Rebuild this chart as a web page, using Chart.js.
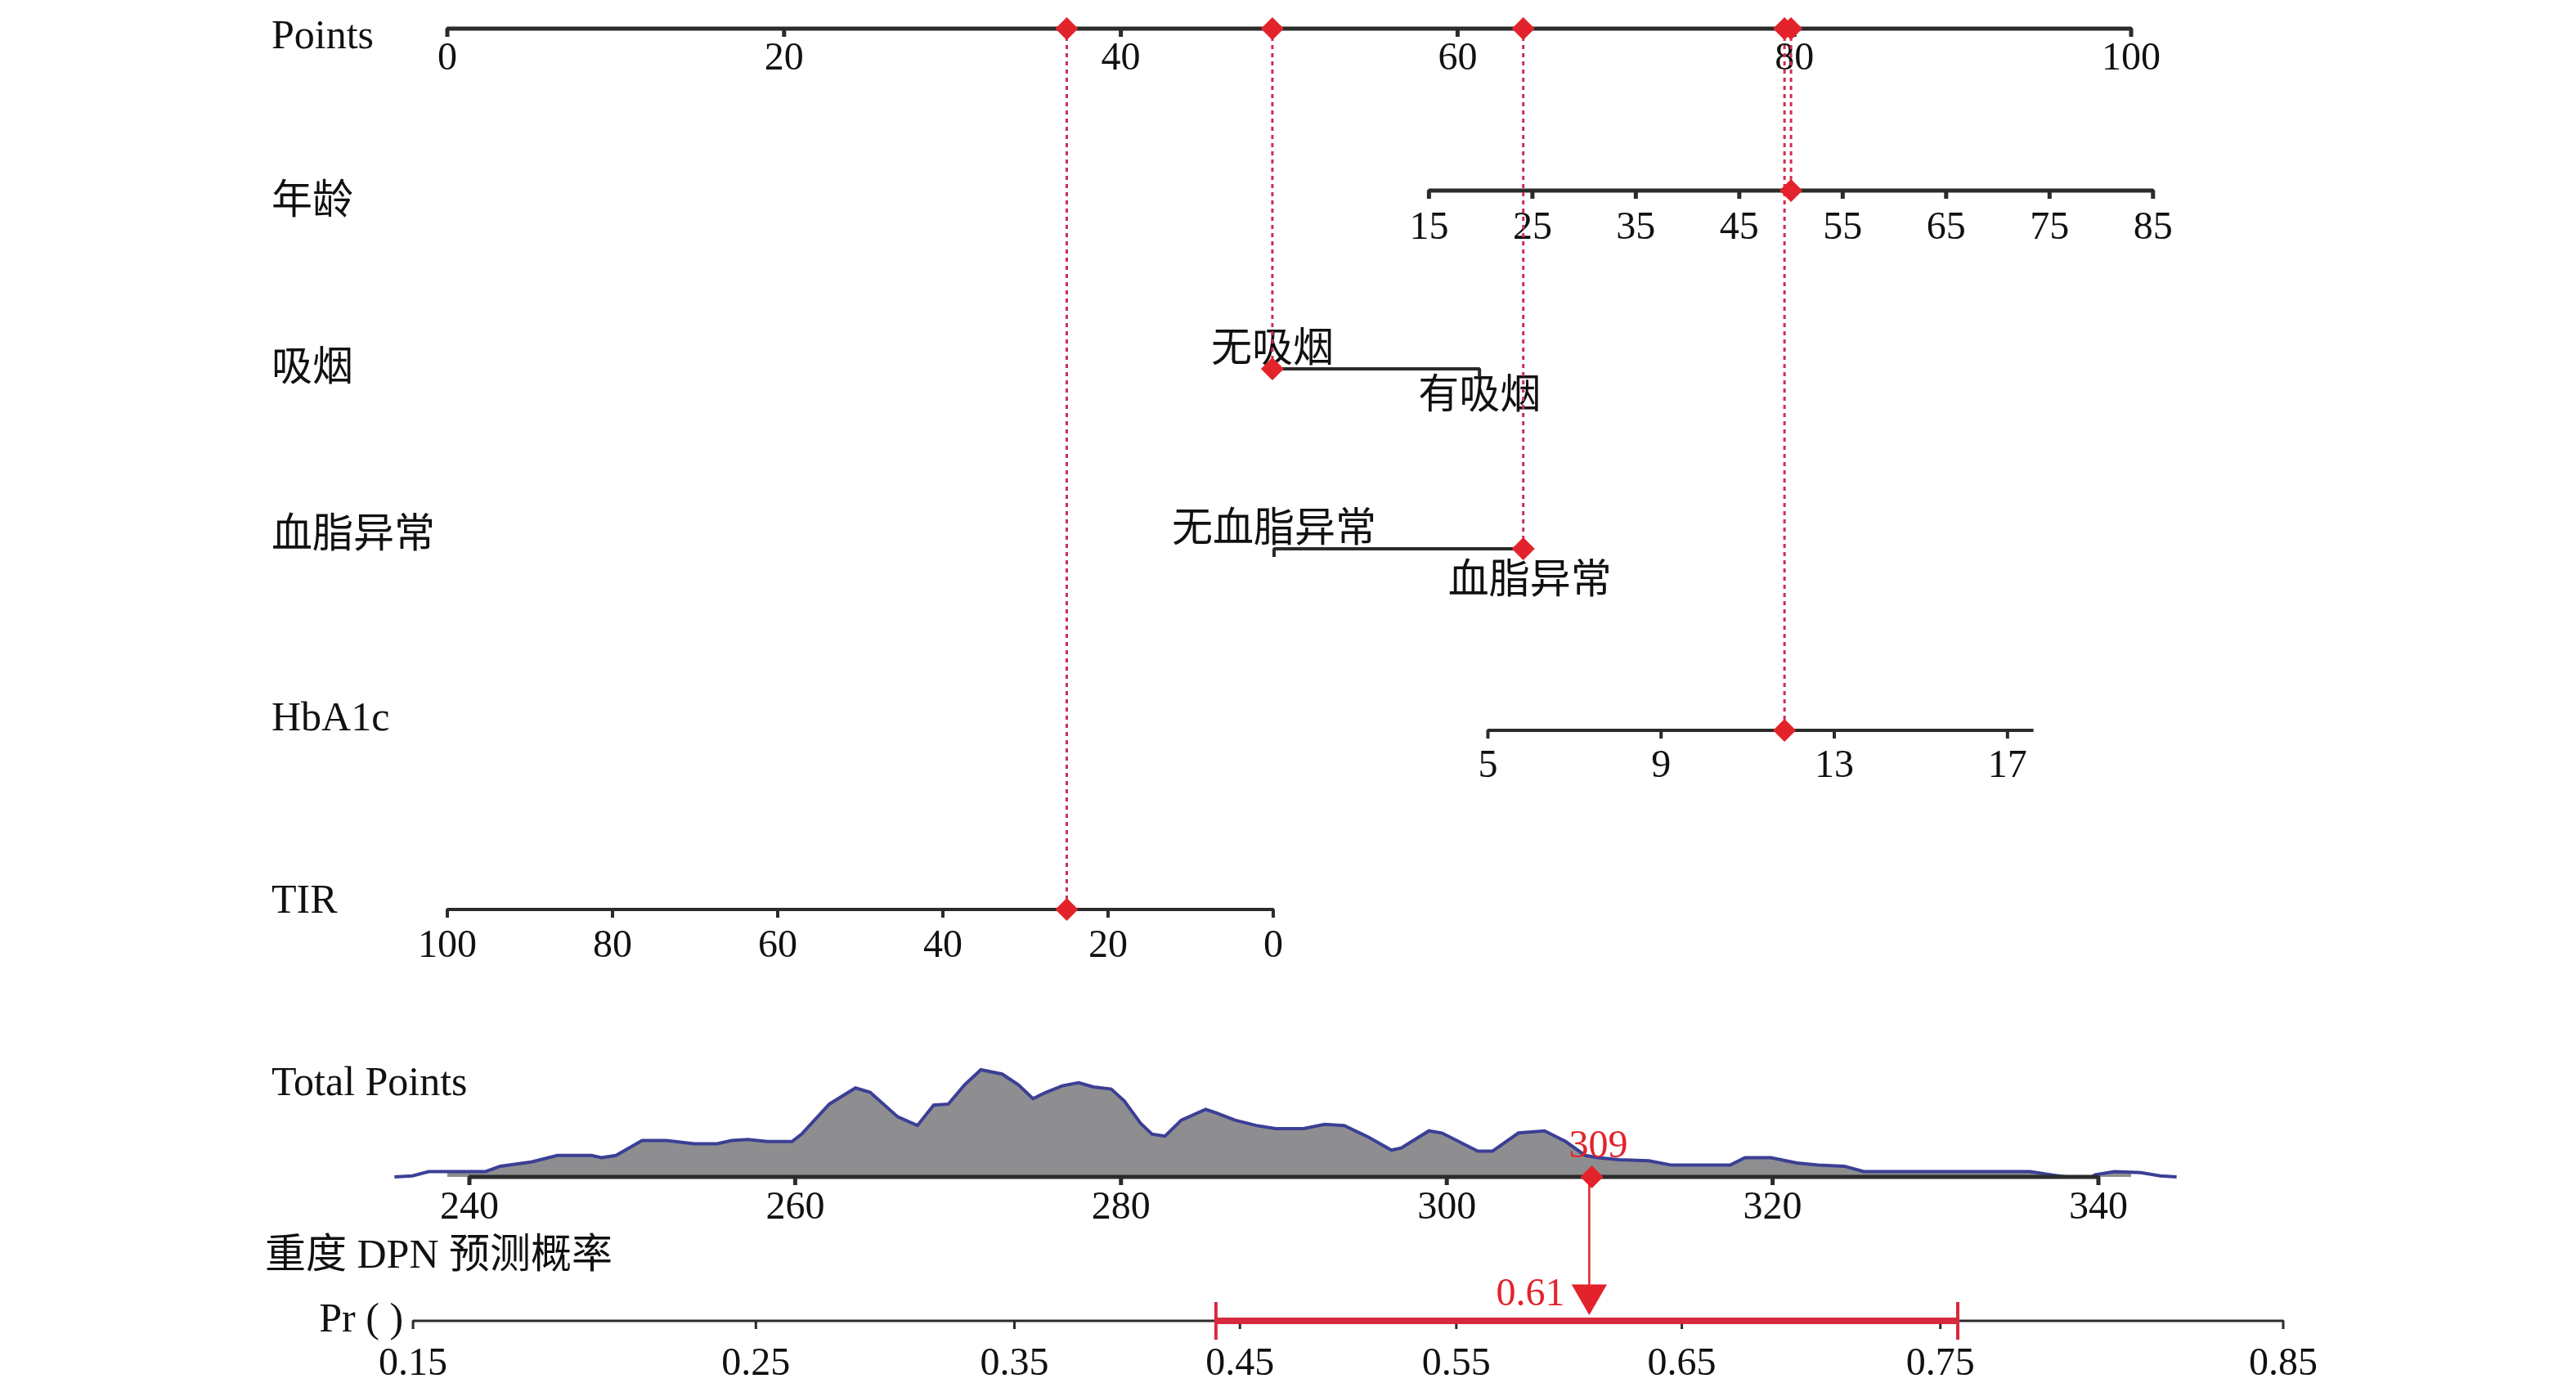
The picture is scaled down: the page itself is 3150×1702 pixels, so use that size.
<!DOCTYPE html>
<html>
<head>
<meta charset="utf-8">
<script src="https://cdn.jsdelivr.net/npm/chart.js@4.4.1/dist/chart.umd.min.js"></script>
<style>
  html, body { margin: 0; padding: 0; background: #fff; }
  #wrap { width: 3150px; height: 1702px; position: relative; }
</style>
</head>
<body>
<div id="wrap"><canvas id="chart"></canvas></div>
<script>
// ---- data ----
const pointTicks = [0, 20, 40, 60, 80, 100];

// 年龄: tick labels, axis range and the points at both ends of it
const ageTicks = [15, 25, 35, 45, 55, 65, 75, 85];
const ageRange = [15, 85];
const agePoints = [58.3, 101.3];

// 吸烟
const smokeLabels = ['无吸烟', '有吸烟'];
const smokePoints = [49.0, 61.3];

// 血脂异常
const lipidLabels = ['无血脂异常', '血脂异常'];
const lipidPoints = [49.1, 63.9];

// HbA1c
const hbTicks = [5, 9, 13, 17];
const hbRange = [5, 17.6];
const hbPoints = [61.8, 94.2];

// TIR
const tirTicks = [100, 80, 60, 40, 20, 0];
const tirRange = [100, 0];
const tirPoints = [0, 49.05];

// Total Points axis and the density drawn on it (relative height)
const totalTicks = [240, 260, 280, 300, 320, 340];
const densityX = [
  235.4, 236.5, 237.5, 241.0, 241.9, 243.8, 245.4, 247.5, 248.1, 249.0,
  250.6, 252.1, 253.8, 255.2, 256.1, 257.1, 258.3, 259.8, 260.4, 262.1,
  263.7, 264.6, 266.3, 267.5, 268.5, 269.4, 270.4, 271.4, 272.7, 273.7,
  274.6, 275.4, 276.4, 277.4, 278.3, 279.4, 280.2, 281.2, 281.9, 282.7,
  283.7, 285.2, 285.8, 287.0, 288.3, 289.5, 291.2, 292.5, 293.7, 295.2,
  296.6, 297.2, 298.9, 299.7, 301.9, 302.8, 304.4, 306.0, 307.3, 308.5,
  309.3, 310.6, 312.4, 313.8, 317.4, 318.3, 319.9, 321.5, 322.8, 324.4,
  325.6, 335.8, 337.1, 338.0, 339.6, 339.8, 341.0, 342.6, 343.8, 344.8
];
const densityY = [
  0.00, 0.01, 0.05, 0.05, 0.10, 0.14, 0.20, 0.20, 0.18, 0.20,
  0.34, 0.34, 0.31, 0.31, 0.34, 0.35, 0.33, 0.33, 0.40, 0.68,
  0.83, 0.79, 0.56, 0.48, 0.67, 0.68, 0.86, 1.00, 0.96, 0.86,
  0.73, 0.79, 0.85, 0.88, 0.84, 0.82, 0.71, 0.50, 0.40, 0.38,
  0.53, 0.63, 0.60, 0.53, 0.48, 0.45, 0.45, 0.49, 0.48, 0.37,
  0.25, 0.27, 0.43, 0.41, 0.24, 0.24, 0.41, 0.43, 0.33, 0.20,
  0.18, 0.16, 0.15, 0.11, 0.11, 0.18, 0.18, 0.13, 0.11, 0.10,
  0.05, 0.05, 0.02, 0.00, 0.00, 0.02, 0.05, 0.04, 0.01, 0.00
];

// Pr ( ) axis
const prTicks = [0.15, 0.25, 0.35, 0.45, 0.55, 0.65, 0.75, 0.85];

// the example patient
const patient = { age: 50, smoke: 0, lipid: 1, hba1c: 11.85, tir: 25 };
const totalLabel = '309';
const prob = 0.61;
const probCI = [0.439, 0.756];

const rowTitles = {
  points: 'Points', age: '年龄', smoke: '吸烟', lipid: '血脂异常', hba1c: 'HbA1c',
  tir: 'TIR', total: 'Total Points', prTitle: '重度 DPN 预测概率'
};

// ---- layout ----
const ROW = { points: 35, age: 233, smoke: 451, lipid: 671, hba1c: 893, tir: 1112, total: 1439, pr: 1615 };
const TITLE_Y = { points: 46, age: 248, smoke: 452, lipid: 656, hba1c: 880, tir: 1103, total: 1326, prTitle: 1537 };
const TICK = 10;
const RED = '#e3232b';
const SERIF = '"Liberation Serif", "Noto Sans CJK SC"';

const toPts = (v, range, pts) => pts[0] + (v - range[0]) / (range[1] - range[0]) * (pts[1] - pts[0]);
const logit = p => Math.log(p / (1 - p));

// axis polyline with ticks hanging below
function axisPath(items, y) {
  const path = [];
  items.slice().sort((a, b) => a.x - b.x).forEach(it => {
    path.push({ x: it.x, y: y });
    if (it.tick) path.push({ x: it.x, y: y + TICK }, { x: it.x, y: y });
  });
  return path;
}
const ticksOn = (vals, f) => vals.map(v => ({ x: f(v), tick: true }));

const axisDs = (data, xAxisID, width) => ({
  data, xAxisID, yAxisID: 'y', showLine: true, pointRadius: 0,
  borderColor: '#2b2b2b', borderWidth: width, borderJoinStyle: 'bevel',
  fill: false, clip: false, order: 5
});

const ageF = v => toPts(v, ageRange, agePoints);
const hbF = v => toPts(v, hbRange, hbPoints);
const tirF = v => toPts(v, tirRange, tirPoints);

const pp = {
  age: ageF(patient.age),
  smoke: smokePoints[patient.smoke],
  lipid: lipidPoints[patient.lipid],
  hba1c: hbF(patient.hba1c),
  tir: tirF(patient.tir)
};
const total = Object.values(pp).reduce((a, b) => a + b, 0);
const varKeys = ['age', 'smoke', 'lipid', 'hba1c', 'tir'];

const datasets = [];

// density
datasets.push({
  data: densityX.map((x, i) => ({ x: x, y: densityY[i] })),
  xAxisID: 'xTot', yAxisID: 'yDen', showLine: true, pointRadius: 0,
  borderColor: '#3b3f95', borderWidth: 4, backgroundColor: '#8e8e91',
  fill: 'origin', clip: false, order: 10
});

// axes
datasets.push(axisDs(axisPath(ticksOn(pointTicks, v => v), ROW.points), 'x', 5));
datasets.push(axisDs(axisPath(ticksOn(ageTicks, ageF), ROW.age), 'x', 5));
datasets.push(axisDs(axisPath(smokePoints.map(p => ({ x: p, tick: true })), ROW.smoke), 'x', 4));
datasets.push(axisDs(axisPath(lipidPoints.map(p => ({ x: p, tick: true })), ROW.lipid), 'x', 4));
datasets.push(axisDs(axisPath(ticksOn(hbTicks, hbF).concat([{ x: hbF(hbRange[1]), tick: false }]), ROW.hba1c), 'x', 4));
datasets.push(axisDs(axisPath(ticksOn(tirTicks, tirF), ROW.tir), 'x', 4));
datasets.push(axisDs(axisPath(ticksOn(totalTicks, v => v), ROW.total), 'xTot', 5));
datasets.push(axisDs(axisPath(ticksOn(prTicks, logit), ROW.pr), 'xPr', 3));

// dotted guides from each variable up to Points
varKeys.forEach(k => {
  datasets.push({
    data: [{ x: pp[k], y: ROW.points }, { x: pp[k], y: ROW[k] }],
    xAxisID: 'x', yAxisID: 'y', showLine: true, pointRadius: 0,
    borderColor: '#cf2d52', borderWidth: 3, borderDash: [5, 5],
    clip: false, order: 3
  });
});

// red connector total -> probability
datasets.push({
  data: [{ x: logit(prob), y: ROW.total }, { x: logit(prob), y: ROW.pr - 40 }],
  xAxisID: 'xPr', yAxisID: 'y', showLine: true, pointRadius: 0,
  borderColor: RED, borderWidth: 2.5, clip: false, order: 3
});

// confidence interval bar with end caps
datasets.push({
  data: probCI.map(p => ({ x: logit(p), y: ROW.pr })),
  xAxisID: 'xPr', yAxisID: 'y', showLine: true,
  borderColor: '#d62a3e', borderWidth: 8,
  pointStyle: 'line', pointRotation: 90, pointRadius: 23,
  pointBorderWidth: 4, pointBorderColor: '#d62a3e',
  clip: false, order: 2
});

// arrow head
datasets.push({
  data: [{ x: logit(prob), y: ROW.pr - 32 }],
  xAxisID: 'xPr', yAxisID: 'y',
  pointStyle: 'triangle', pointRotation: 180, pointRadius: 25,
  pointBackgroundColor: RED, pointBorderWidth: 0,
  clip: false, order: 1
});

// diamonds
datasets.push({
  data: varKeys.flatMap(k => [{ x: pp[k], y: ROW.points }, { x: pp[k], y: ROW[k] }]),
  xAxisID: 'x', yAxisID: 'y',
  pointStyle: 'rectRot', pointRadius: 14,
  pointBackgroundColor: RED, pointBorderWidth: 0,
  clip: false, order: 1
});
datasets.push({
  data: [{ x: total, y: ROW.total }],
  xAxisID: 'xTot', yAxisID: 'y',
  pointStyle: 'rectRot', pointRadius: 14,
  pointBackgroundColor: RED, pointBorderWidth: 0,
  clip: false, order: 1
});

const textPlugin = {
  id: 'nomoText',
  beforeDatasetsDraw(chart) {
    const ctx = chart.ctx;
    const sx = chart.scales.x, st = chart.scales.xTot, sp = chart.scales.xPr;
    ctx.save();
    ctx.fillStyle = '#111';
    ctx.textBaseline = 'middle';

    ctx.font = '50px ' + SERIF;
    ctx.textAlign = 'left';
    Object.keys(rowTitles).forEach(k => {
      ctx.fillText(rowTitles[k], k === 'prTitle' ? 324 : 332, TITLE_Y[k]);
    });
    ctx.textAlign = 'right';
    ctx.fillText('Pr ( )', sp.getPixelForValue(logit(prTicks[0])) - 12, ROW.pr);

    ctx.font = '48px "Liberation Serif"';
    ctx.textAlign = 'center';
    pointTicks.forEach(t => ctx.fillText(String(t), sx.getPixelForValue(t), ROW.points + 37));
    ageTicks.forEach(t => ctx.fillText(String(t), sx.getPixelForValue(ageF(t)), ROW.age + 46));
    hbTicks.forEach(t => ctx.fillText(String(t), sx.getPixelForValue(hbF(t)), ROW.hba1c + 44));
    tirTicks.forEach(t => ctx.fillText(String(t), sx.getPixelForValue(tirF(t)), ROW.tir + 45));
    totalTicks.forEach(t => ctx.fillText(String(t), st.getPixelForValue(t), ROW.total + 38));
    prTicks.forEach(t => ctx.fillText(t.toFixed(2), sp.getPixelForValue(logit(t)), ROW.pr + 53));

    ctx.font = '50px ' + SERIF;
    ctx.fillText(smokeLabels[0], sx.getPixelForValue(smokePoints[0]), ROW.smoke - 22);
    ctx.fillText(smokeLabels[1], sx.getPixelForValue(smokePoints[1]), ROW.smoke + 35);
    ctx.fillText(lipidLabels[0], sx.getPixelForValue(lipidPoints[0]), ROW.lipid - 22);
    ctx.fillText(lipidLabels[1], sx.getPixelForValue(lipidPoints[1]) + 8, ROW.lipid + 41);
    ctx.restore();
  },
  afterDatasetsDraw(chart) {
    const ctx = chart.ctx;
    const st = chart.scales.xTot, sp = chart.scales.xPr;
    ctx.save();
    ctx.fillStyle = RED;
    ctx.textBaseline = 'middle';
    ctx.font = '48px "Liberation Serif"';
    ctx.textAlign = 'center';
    ctx.fillText(totalLabel, st.getPixelForValue(total) + 8, ROW.total - 37);
    ctx.textAlign = 'right';
    ctx.fillText(prob.toFixed(2), sp.getPixelForValue(logit(prob)) - 30, ROW.pr - 32);
    ctx.restore();
  }
};

// scale limits: Points 0..100 fill the chart area; the other axes are set to line up
const fixRange = (lo, hi) => scale => { scale.min = lo; scale.max = hi; };

new Chart(document.getElementById('chart'), {
  type: 'scatter',
  data: { datasets },
  options: {
    responsive: true,
    maintainAspectRatio: false,
    devicePixelRatio: 1,
    animation: false,
    layout: { autoPadding: false, padding: { left: 547, right: 544, top: 0, bottom: 0 } },
    plugins: { legend: { display: false }, tooltip: { enabled: false } },
    scales: {
      x: { type: 'linear', axis: 'x', display: false, bounds: 'data', afterDataLimits: fixRange(0, 100) },
      xTot: { type: 'linear', axis: 'x', display: false, bounds: 'data', afterDataLimits: fixRange(238.645, 342.009) },
      xPr: { type: 'linear', axis: 'x', display: false, bounds: 'data', afterDataLimits: fixRange(-1.671, 1.4525) },
      y: { type: 'linear', axis: 'y', display: false, reverse: true, bounds: 'data', afterDataLimits: fixRange(0, 1702) },
      yDen: { type: 'linear', axis: 'y', display: false, bounds: 'data', afterDataLimits: fixRange(-2.0076, 10.985) }
    }
  },
  plugins: [textPlugin]
});
</script>
</body>
</html>
